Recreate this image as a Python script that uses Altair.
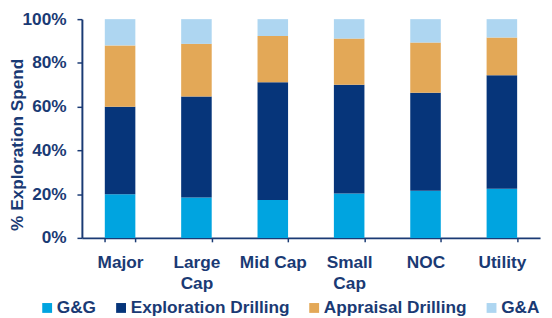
import altair as alt
import pandas as pd

categories = ["Major", "Large Cap", "Mid Cap", "Small Cap", "NOC", "Utility"]
series = ["G&G", "Exploration Drilling", "Appraisal Drilling", "G&A"]
gg = [20, 18.5, 17.3, 20.3, 21.5, 22.5]
expl = [40, 46.1, 53.9, 49.7, 44.9, 51.8]
appr = [28, 24.1, 21.1, 21.1, 22.9, 17.3]
ga = [12, 11.3, 7.7, 8.9, 10.7, 8.4]
colors = ["#00A4E0", "#06357A", "#E3A857", "#AED6F1"]

rows = []
for i, c in enumerate(categories):
    for j, (s, vals) in enumerate(zip(series, [gg, expl, appr, ga])):
        rows.append({"cat": c, "series": s, "value": vals[i], "ord": j})
df = pd.DataFrame(rows)

TXT = "#1A3A74"
FONT = "Liberation Sans"

chart = alt.Chart(df).mark_bar().encode(
    x=alt.X("cat:N", sort=categories,
            scale=alt.Scale(paddingInner=0.6, paddingOuter=0.3),
            axis=alt.Axis(title=None, labelAngle=0, tickBand="extent",
                          labelExpr="datum.label == 'Large Cap' ? ['Large','Cap'] : datum.label == 'Small Cap' ? ['Small','Cap'] : datum.label",
                          labelLineHeight=21, tickSize=4, labelPadding=12)),
    y=alt.Y("value:Q", stack="zero",
            scale=alt.Scale(domain=[0, 100], nice=False),
            axis=alt.Axis(title="% Exploration Spend", values=[0, 20, 40, 60, 80, 100],
                          labelExpr="datum.value + '%'", grid=False, tickSize=5,
                          labelPadding=11, titleX=-56, titleY=127)),
    color=alt.Color("series:N", sort=series,
                    scale=alt.Scale(domain=series, range=colors),
                    legend=alt.Legend(title=None, orient="none", direction="horizontal",
                                      legendX=-44, legendY=284, symbolType="square",
                                      symbolSize=100, symbolStrokeWidth=0,
                                      labelOffset=1, columnPadding=16, labelLimit=400,
                                      labelFontSize=17.5, labelFont=FONT,
                                      labelFontWeight="bold", labelColor=TXT)),
    order=alt.Order("ord:Q"),
).properties(
    width=465, height=222,
    autosize=alt.AutoSizeParams(type="none"),
    padding={"left": 75, "top": 9, "right": 4, "bottom": 79},
).configure_view(stroke=None).configure_axis(
    labelFont=FONT, labelFontSize=17.5, labelFontWeight="bold", labelColor=TXT,
    titleFont=FONT, titleFontSize=17.5, titleFontWeight="bold", titleColor=TXT,
    domainColor=TXT, domainWidth=2, tickColor=TXT, tickWidth=1.5,
)

chart.save("out.html", embed_options={"renderer": "svg", "actions": False})
